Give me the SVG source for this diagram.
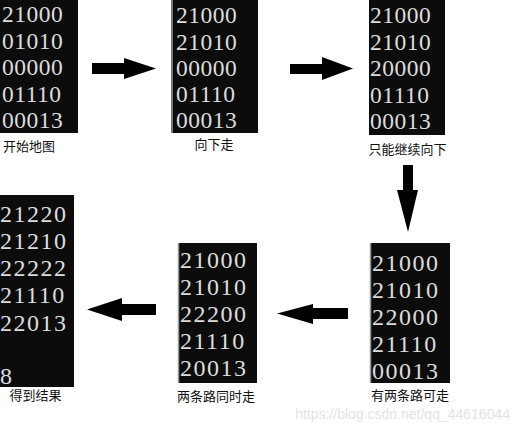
<svg xmlns="http://www.w3.org/2000/svg" width="520" height="432" viewBox="0 0 520 432">
<style>
.bg{fill:#0c0c0c}
.edge{stroke:#9a9a9a;stroke-width:1.5}
.num{fill:#dcdcdc}
.n1{font-size:23.5px;letter-spacing:0.5px}
.n2{font-size:24px;letter-spacing:1.5px}
.lbl{font-family:"Noto Sans CJK SC","Noto Sans",sans-serif;font-size:13px;fill:#111}
.arrow{fill:#000}
.wm{font-family:"Liberation Sans",Arial,sans-serif;font-size:14px;fill:#e4e4e4}
</style>
<rect width="520" height="432" fill="#fff"/>
<g id="start">
<rect class="bg" x="0" y="0" width="78" height="133"/>
<text class="num n1" font-family="'Liberation Serif','DejaVu Serif',serif"><tspan x="2" y="22">21000</tspan><tspan x="2" y="48.5">01010</tspan><tspan x="2" y="75">00000</tspan><tspan x="2" y="101.5">01110</tspan><tspan x="2" y="128">00013</tspan></text>
<text class="lbl" x="3" y="151">开始地图</text>
</g>
<g id="down">
<rect class="bg" x="171" y="0" width="87" height="133"/>
<line class="edge" x1="172" y1="0" x2="172" y2="133"/>
<text class="num n1" font-family="'Liberation Serif','DejaVu Serif',serif"><tspan x="176" y="23">21000</tspan><tspan x="176" y="49.5">21010</tspan><tspan x="176" y="76">00000</tspan><tspan x="176" y="102">01110</tspan><tspan x="176" y="128">00013</tspan></text>
<text class="lbl" x="214" y="149" text-anchor="middle">向下走</text>
</g>
<g id="continue">
<rect class="bg" x="369" y="0" width="76" height="135"/>
<text class="num n1" font-family="'Liberation Serif','DejaVu Serif',serif"><tspan x="370" y="23">21000</tspan><tspan x="370" y="49.5">21010</tspan><tspan x="370" y="76">20000</tspan><tspan x="370" y="102.5">01110</tspan><tspan x="370" y="129">00013</tspan></text>
<text class="lbl" x="407.5" y="154" text-anchor="middle">只能继续向下</text>
</g>
<g id="twopaths">
<rect class="bg" x="370" y="243" width="80" height="140"/>
<line class="edge" x1="370.5" y1="243" x2="370.5" y2="383"/>
<text class="num n2" font-family="'Liberation Serif','DejaVu Serif',serif"><tspan x="372" y="271">21000</tspan><tspan x="372" y="298">21010</tspan><tspan x="372" y="325">22000</tspan><tspan x="372" y="352">21110</tspan><tspan x="372" y="379">00013</tspan></text>
<text class="lbl" x="410" y="400" text-anchor="middle">有两条路可走</text>
</g>
<g id="both">
<rect class="bg" x="178" y="243" width="79" height="140"/>
<line class="edge" x1="178.5" y1="243" x2="178.5" y2="383"/>
<text class="num n2" font-family="'Liberation Serif','DejaVu Serif',serif"><tspan x="180" y="268">21000</tspan><tspan x="180" y="295">21010</tspan><tspan x="180" y="322">22200</tspan><tspan x="180" y="349">21110</tspan><tspan x="180" y="376">20013</tspan></text>
<text class="lbl" x="216" y="401" text-anchor="middle">两条路同时走</text>
</g>
<g id="result">
<rect class="bg" x="0" y="195" width="74" height="192"/>
<text class="num n2" font-family="'Liberation Serif','DejaVu Serif',serif"><tspan x="0" y="222">21220</tspan><tspan x="0" y="249">21210</tspan><tspan x="0" y="276">22222</tspan><tspan x="0" y="303">21110</tspan><tspan x="0" y="331">22013</tspan><tspan x="0" y="384">8</tspan></text>
<text class="lbl" x="35.5" y="400" text-anchor="middle">得到结果</text>
</g>
<g id="connectors">
<polygon class="arrow" points="92,63 124,63 124,58 156,68.5 124,79 124,74 92,74"/>
<polygon class="arrow" points="290,64 322,64 322,57 353,68.5 322,80 322,74 290,74"/>
<polygon class="arrow" points="403,165 413,165 413,190 418,190 408,232 397,190 403,190"/>
<polygon class="arrow" points="348,308 313,308 313,304 277,313.5 313,324 313,319 348,319"/>
<polygon class="arrow" points="156,304 122,304 122,298 87,309.5 122,321 122,315 156,315"/>
</g>
<text class="wm" x="510" y="419" text-anchor="end">https://blog.csdn.net/qq_44616044</text>
</svg>
